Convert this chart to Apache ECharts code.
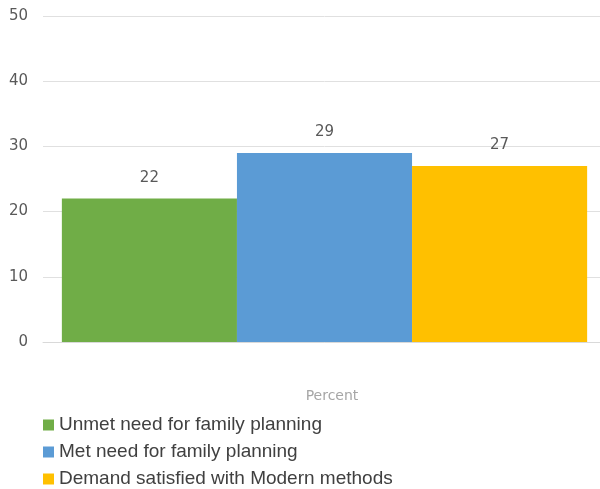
<!DOCTYPE html>
<html>
<head>
<meta charset="utf-8">
<script src="https://cdn.jsdelivr.net/npm/echarts@6/dist/echarts.min.js"></script>
<style>
  html, body { margin: 0; padding: 0; background: #fff; overflow: hidden; }
  #chart { width: 606px; height: 489px; }
</style>
</head>
<body>
<div id="chart"></div>
<script>
// Family planning indicators (percent)
const categories = ['Percent'];
const seriesNames = [
  'Unmet need for family planning',
  'Met need for family planning',
  'Demand satisfied with Modern methods'
];
const unmetNeed = [22];
const metNeed = [29];
const demandSatisfied = [27];
const seriesColors = ['#70ad47', '#5b9bd5', '#ffc000'];
const yTicks = [0, 10, 20, 30, 40, 50];

const seriesValues = [unmetNeed, metNeed, demandSatisfied];
const numberFont = 'DejaVu Sans, Verdana, sans-serif';

const chart = echarts.init(document.getElementById('chart'));
chart.setOption({
  animation: false,
  textStyle: { fontFamily: 'Liberation Sans, Arial, sans-serif' },
  grid: { left: 43, right: 0, top: 16, bottom: 147 },
  legend: {
    orient: 'vertical',
    left: 43,
    top: 415,
    padding: 0,
    itemGap: 7,
    itemWidth: 11,
    itemHeight: 11,
    icon: 'rect',
    textStyle: { fontSize: 19, lineHeight: 20, color: '#404040' },
    data: seriesNames
  },
  xAxis: {
    type: 'category',
    data: categories,
    axisLine: { show: true, lineStyle: { color: '#d9d9d9' } },
    axisTick: { show: false },
    axisLabel: {
      margin: 47, fontSize: 14, color: '#a6a6a6',
      fontFamily: numberFont, padding: [0, 0, 0, 15]
    }
  },
  yAxis: {
    type: 'value',
    min: yTicks[0],
    max: yTicks[yTicks.length - 1],
    interval: 10,
    axisLine: { show: false },
    axisTick: { show: false },
    splitLine: { lineStyle: { color: '#e0e0e0', width: 1 } },
    axisLabel: { margin: 15, fontSize: 15, color: '#595959', fontFamily: numberFont }
  },
  series: seriesNames.map((name, i) => ({
    name,
    type: 'bar',
    data: seriesValues[i],
    barGap: '0%',
    barCategoryGap: '6.7%',
    itemStyle: { color: seriesColors[i] },
    label: {
      show: true,
      position: 'top',
      distance: 13,
      fontSize: 15,
      color: '#595959',
      fontFamily: numberFont
    }
  }))
});
</script>
</body>
</html>
